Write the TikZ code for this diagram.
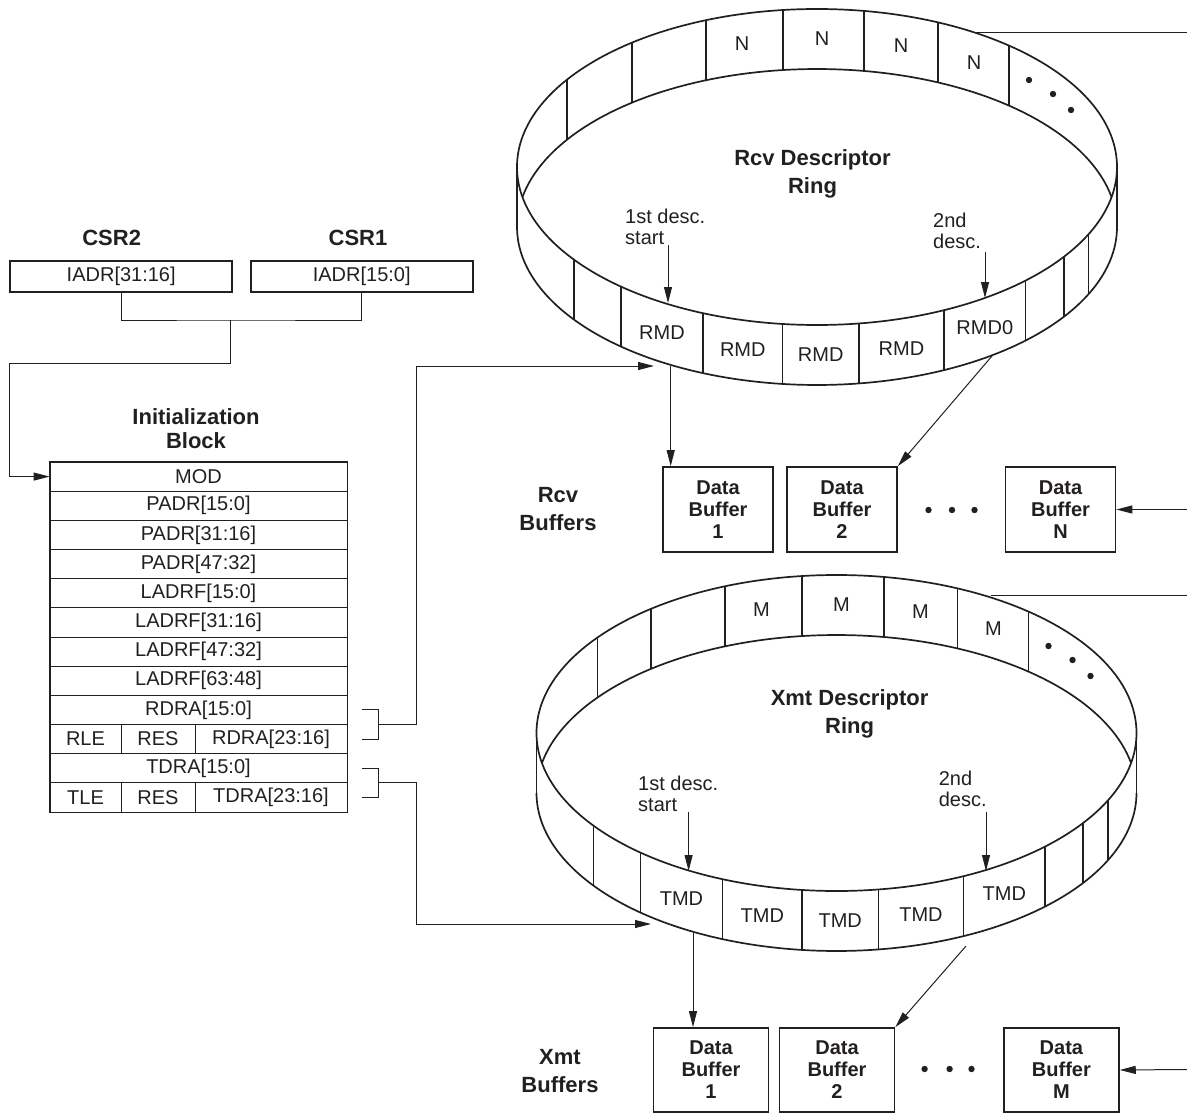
\documentclass[tikz,border=0pt]{standalone}
\usepackage{fontspec}
\setmainfont{Liberation Sans}
\usetikzlibrary{arrows.meta,calc}
\definecolor{ink}{HTML}{231F20}

% #1 cx, #2 cy, #3 back dividers, #4 back label, #5 front label, #6 last front label
\newcommand\descring[6]{%
\begin{scope}[shift={(#1,#2)}]
 \draw[ringline] (0,0) ellipse [x radius=300, y radius=158];
 \draw[ringline] plot[domain=10.95:169.05,samples=90] ({300*cos(\x)},{60-158*sin(\x)});
 \draw[ringline] plot[domain=180:360,samples=120] ({300*cos(\x)},{60-158*sin(\x)});
 \draw[ringline] (-300,0) -- (-300,60) (300,0) -- (300,60);
 \foreach \d in {#3} \draw[ringline] ({\d},{-158*sqrt(1-(\d/300)*(\d/300))}) -- ++(0,60);
 \foreach \d in {-243,-196,-114,-34.5,42,127,208.6,246.7,271.6}
   \draw[ringline] ({\d},{158*sqrt(1-(\d/300)*(\d/300))}) -- ++(0,60);
 \foreach \d in {-75,5,84,157} \node[txt] at ({\d},{30-158*sqrt(1-(\d/300)*(\d/300))}) {#4};
 \foreach \d in {-155,-74.2,3.7,84.5} \node[txt] at ({\d},{30+158*sqrt(1-(\d/300)*(\d/300))}) {#5};
 \node[txt] at (167.8,{30+158*sqrt(1-(167.8/300)*(167.8/300))}) {#6};
 \foreach \a/\b in {212/-87,236/-73,254/-57} \fill (\a,\b) circle[radius=3.2];
\end{scope}}

\begin{document}
\begin{tikzpicture}[x=1pt,y=-1pt,color=ink,
 ringline/.style={line width=1.7pt},
 conn/.style={line width=1pt},
 arr/.style={line width=1pt,-{Triangle[length=16pt,width=8pt]}},
 txt/.style={font=\fontsize{20}{21}\selectfont,inner sep=0pt,align=left},
 ttl/.style={font=\fontsize{22}{24}\selectfont\bfseries,inner sep=0pt,align=center},
 ttlw/.style={font=\fontsize{22}{28}\selectfont\bfseries,inner sep=0pt,align=center},
 regbox/.style={draw,line width=1.7pt,minimum width=222pt,minimum height=31pt,inner sep=0pt,font=\fontsize{20}{21}\selectfont},
 cell/.style={draw,line width=0.9pt,minimum height=29.17pt,inner sep=0pt,font=\fontsize{20}{21}\selectfont},
 bufbox/.style={draw,line width=1.7pt,minimum height=85pt,inner sep=0pt,align=center,font=\fontsize{20}{22}\selectfont\bfseries},
 dot/.style={radius=3.2}]
\useasboundingbox (0,0) rectangle (1187,1113);

% ---------- CSR registers ----------
\node[ttl] (csr2l) at (111.7,238) {CSR2};
\node[ttl] (csr1l) at (358,238) {CSR1};
\node[regbox] (iadrhi) at (121.2,276.4) {IADR[31:16]};
\node[regbox] (iadrlo) at (361.7,276.4) {IADR[15:0]};

% ---------- Initialization block ----------
\node[ttl] (initl) at (196,429) {Initialization\\Block};
\node[cell,minimum width=297pt] (mod)    at (198.5,476.58) {MOD};
\node[cell,minimum width=297pt] (padra)  at (198.5,505.75) {PADR[15:0]};
\node[cell,minimum width=297pt] (padrb)  at (198.5,534.92) {PADR[31:16]};
\node[cell,minimum width=297pt] (padrc)  at (198.5,564.08) {PADR[47:32]};
\node[cell,minimum width=297pt] (ladra)  at (198.5,593.25) {LADRF[15:0]};
\node[cell,minimum width=297pt] (ladrb)  at (198.5,622.42) {LADRF[31:16]};
\node[cell,minimum width=297pt] (ladrc)  at (198.5,651.58) {LADRF[47:32]};
\node[cell,minimum width=297pt] (ladrd)  at (198.5,680.75) {LADRF[63:48]};
\node[cell,minimum width=297pt] (rdralo) at (198.5,709.92) {RDRA[15:0]};
\node[cell,minimum width=71pt]  (rle)    at (85.5,739.08) {RLE};
\node[cell,minimum width=74pt]  (rres)   at (158,739.08) {RES};
\node[cell,minimum width=152pt] (rdrahi) at (271,739.08) {RDRA[23:16]};
\node[cell,minimum width=297pt] (tdralo) at (198.5,768.25) {TDRA[15:0]};
\node[cell,minimum width=71pt]  (tle)    at (85.5,797.42) {TLE};
\node[cell,minimum width=74pt]  (tres)   at (158,797.42) {RES};
\node[cell,minimum width=152pt] (tdrahi) at (271,797.42) {TDRA[23:16]};
\draw[line width=1.7pt] (mod.north west) rectangle (tdrahi.south east);

% CSR -> init block
\coordinate (jn) at (230.7,320);
\coordinate (lft) at (9.3,363.5);
\draw[conn] (iadrhi.south) |- (jn) -| (iadrlo.south);
\draw[arr] (jn) |- (lft) |- (mod.west);

% brackets
\draw[conn] ([xshift=15pt]rdralo.east) -- ++(16.3,0) |- ([xshift=15pt]rdrahi.east);
\draw[conn] ([xshift=15pt]tdralo.east) -- ++(16.3,0) |- ([xshift=15pt]tdrahi.east);
\coordinate (rbrm) at (378.3,724.5);
\coordinate (tbrm) at (378.3,782.8);

% ---------- Rcv ring ----------
\descring{817}{167}{-250.3,-185,-111,-34.3,47,120.7,192}{N}{RMD}{RMD0}
\node[ttlw] (rcvttl) at (812.5,174) {Rcv Descriptor\\Ring};
\node[txt,anchor=west] (r1txt) at (625,226.5) {1st desc.\\start};
\node[txt,anchor=west] (r2txt) at (933,231) {2nd\\desc.};
\coordinate (r1s) at (668,245); \coordinate (r1t) at (668,303);
\coordinate (r2s) at (985,252); \coordinate (r2t) at (985,298);
\draw[arr] (r1s) -- (r1t);
\draw[arr] (r2s) -- (r2t);
\coordinate (rcvIn) at (654,366);
\coordinate (rOut1) at (670.7,366);
\coordinate (rOut2) at (992,356);
\coordinate (rTop) at (976,32.5);
\coordinate (rEdgeA) at (1187,32.5);
\coordinate (rEdgeB) at (1187,509.5);

\node[ttlw] (rbufl) at (558,509) {Rcv\\Buffers};
\node[bufbox,minimum width=110pt] (rdb1) at (718,509.5) {Data\\Buffer\\1};
\node[bufbox,minimum width=110pt] (rdb2) at (842,509.5) {Data\\Buffer\\2};
\node[bufbox,minimum width=110pt] (rdbn) at (1060.5,509.5) {Data\\Buffer\\N};
\foreach \x in {928.5,952,974.5} \fill (\x,510) circle[dot];

\draw[arr] (rbrm) -- (416.7,724.5) |- (rcvIn);
\draw[arr] (rOut1) -- (rOut1 |- rdb1.north);
\draw[arr] (rOut2) -- (rdb2.north east);
\draw[conn] (rTop) -- (rEdgeA);
\draw[arr] (rEdgeB) -- (rdbn.east);

% ---------- Xmt ring ----------
\descring{836.5}{733}{-239,-185.5,-111.5,-34.7,47.3,121,192}{M}{TMD}{TMD}
\node[ttlw] (xmtttl) at (849.6,713.5) {Xmt Descriptor\\Ring};
\node[txt,anchor=west] (x1txt) at (638,793.5) {1st desc.\\start};
\node[txt,anchor=west] (x2txt) at (938.6,789) {2nd\\desc.};
\coordinate (x1s) at (688.6,812); \coordinate (x1t) at (688.6,871);
\coordinate (x2s) at (986,812); \coordinate (x2t) at (986,871);
\draw[arr] (x1s) -- (x1t);
\draw[arr] (x2s) -- (x2t);
\coordinate (xmtIn) at (651,924);
\coordinate (xOut1) at (693,933);
\coordinate (xOut2) at (966,946);
\coordinate (xTop) at (991,595);
\coordinate (xEdgeA) at (1187,595);
\coordinate (xEdgeB) at (1187,1069.5);

\node[ttlw] (xbufl) at (560,1071) {Xmt\\Buffers};
\node[bufbox,minimum width=115pt,minimum height=84pt] (xdb1) at (711,1070) {Data\\Buffer\\1};
\node[bufbox,minimum width=115pt,minimum height=84pt] (xdb2) at (837,1070) {Data\\Buffer\\2};
\node[bufbox,minimum width=115pt,minimum height=84pt] (xdbm) at (1061.4,1070) {Data\\Buffer\\M};
\foreach \x in {924.6,949.6,971.5} \fill (\x,1069) circle[dot];

\draw[arr] (tbrm) -- (416.7,782.8) |- (xmtIn);
\draw[arr] (xOut1) -- (xOut1 |- xdb1.north);
\draw[arr] (xOut2) -- (xdb2.north east);
\draw[conn] (xTop) -- (xEdgeA);
\draw[arr] (xEdgeB) -- (xdbm.east);
\end{tikzpicture}
\end{document}
